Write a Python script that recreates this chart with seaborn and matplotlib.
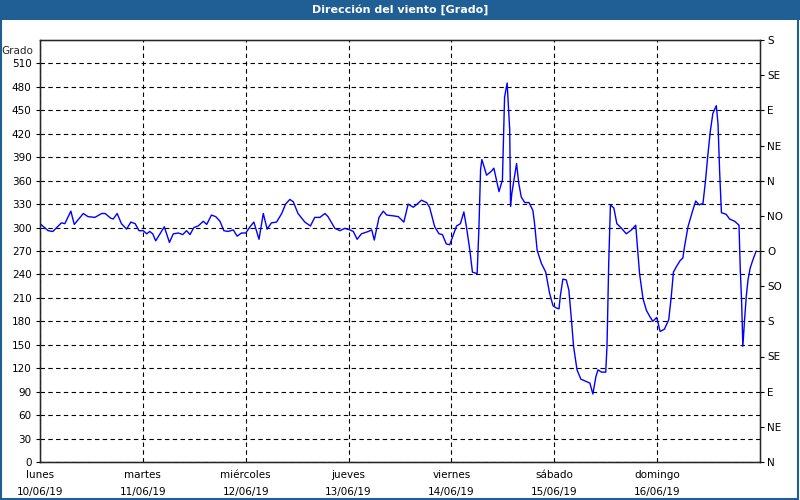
import pandas as pd
import matplotlib.pyplot as plt
from matplotlib.patches import Rectangle
import seaborn as sns

# wind direction readings, hours since 10/06/19 00:00
hours = [0, 1.9, 3, 5, 5.8, 7.2, 8, 10.1, 11.2, 12.8,
         14.4, 15.2, 16.5, 17.1, 18, 19, 20.2, 21.2, 22.2, 23.1,
         24.1, 24.9, 25.6, 26.3, 27, 28, 29, 30.2, 31.1, 32.3,
         33.3, 34.2, 35, 35.9, 36.9, 38.1, 38.9, 40, 41, 42,
         42.9, 43.9, 45.1, 46, 47, 48, 49, 49.9, 51.1, 52.1,
         53, 54, 55.2, 56.4, 57.3, 58.3, 59.1, 60.2, 61.8, 63.1,
         64.1, 65.3, 66.5, 67.2, 68.8, 70, 71.1, 72.3, 73.1, 74,
         75, 76.6, 77.4, 78, 79.1, 80.1, 80.9, 82.4, 83.6, 84.9,
         85.9, 87.1, 88, 89, 90.2, 90.9, 92.1, 93.1, 93.9, 94.8,
         95.6, 96.4, 97.2, 98.1, 98.9, 99.5, 100.3, 100.9, 102, 102.4,
         102.8, 103.1, 103.5, 104.2, 105.3, 105.9, 106.5, 107.1, 107.9, 108.4,
         109, 109.2, 109.6, 109.8, 110.1, 110.6, 111.2, 111.7, 112.3, 113.1,
         114.1, 115, 115.4, 116, 117, 118, 118.9, 119.7, 120.5, 121.1,
         121.4, 122, 122.8, 123.4, 124, 124.5, 125.3, 126.2, 127.5, 128.3,
         129, 129.7, 130.2, 131, 132, 132.3, 132.7, 133.1, 133.9, 134.6,
         135.7, 136.8, 138, 139, 139.3, 139.9, 140.7, 141.5, 142.2, 143,
         143.9, 144.7, 145.7, 146.7, 147.3, 147.8, 148.6, 149.4, 150, 150.4,
         151.2, 152.2, 153, 153.8, 154.7, 155.3, 155.8, 156.4, 157, 157.8,
         158.2, 158.6, 159, 160.1, 160.9, 162.1, 163.1, 163.4, 163.7, 164,
         164.4, 164.8, 165.2, 165.7, 166.3, 167.1]
grado = [305, 296, 295, 306, 305, 321, 304, 318, 314, 313,
         318, 318, 312, 311, 318, 305, 298, 307, 305, 296,
         296, 292, 295, 292, 283, 292, 301, 281, 292, 293,
         291, 296, 291, 300, 302, 308, 304, 316, 314, 308,
         296, 295, 297, 289, 293, 293, 301, 307, 285, 318,
         298, 306, 307, 318, 330, 336, 333, 318, 307, 302,
         313, 313, 318, 314, 299, 296, 299, 297, 295, 285,
         292, 295, 297, 284, 313, 321, 316, 315, 314, 307,
         330, 326, 330, 335, 332, 326, 301, 292, 291, 279,
         278, 290, 302, 305, 320, 301, 271, 243, 241, 297,
         374, 387, 380, 367, 372, 376, 361, 346, 361, 467,
         485, 465, 425, 327, 344, 361, 382, 357, 339, 332,
         332, 322, 305, 271, 254, 243, 216, 200, 197, 196,
         212, 234, 233, 220, 182, 148, 118, 106, 103, 101,
         87, 109, 118, 115, 115, 148, 254, 329, 325, 305,
         299, 292, 297, 303, 282, 241, 209, 194, 187, 180,
         185, 167, 170, 182, 212, 243, 251, 258, 261, 276,
         301, 320, 334, 329, 331, 361, 391, 423, 446, 456,
         433, 369, 319, 317, 311, 308, 303, 246, 207, 148,
         182, 212, 233, 248, 258, 270]

dias = ["lunes", "martes", "miércoles", "jueves", "viernes", "sábado", "domingo"]
fechas = ["10/06/19", "11/06/19", "12/06/19", "13/06/19", "14/06/19", "15/06/19", "16/06/19"]
rumbos = ["N", "NE", "E", "SE", "S", "SO", "O", "NO", "N", "NE", "E", "SE", "S"]

start = pd.Timestamp("2019-06-10")
df = pd.DataFrame({"Fecha": start + pd.to_timedelta(hours, unit="h"), "Grado": grado})

sns.set_style("white")
plt.rcParams['font.family'] = ['DejaVu Sans']
plt.rcParams['font.size'] = 7.5

blue = '#1f5f96'
fig = plt.figure(figsize=(8, 5), dpi=100)
# title band and thin frame round the picture
fig.patches.append(Rectangle((0, 0.96), 1, 0.04, transform=fig.transFigure,
                             facecolor=blue, edgecolor='none', zorder=0))
fig.patches.append(Rectangle((0.001, 0.002), 0.997, 0.997, transform=fig.transFigure,
                             facecolor='none', edgecolor=blue, lw=1.5, zorder=1))
fig.text(0.5, 0.98, "Dirección del viento [Grado]", color='white', fontweight='bold',
         ha='center', va='center', fontsize=8)

ax = fig.add_axes([40 / 800, 38 / 500, 720 / 800, 422 / 500])
sns.lineplot(data=df, x="Fecha", y="Grado", ax=ax, color='#0000ff', lw=1,
             estimator=None)

ax.set_xlim(start, start + pd.Timedelta(days=7))
ax.set_ylim(0, 540)
ax.set_yticks(range(0, 511, 30))
ax.set_xticks([start + pd.Timedelta(days=i) for i in range(7)])
ax.set_xticklabels([f"{d}\n{f}" for d, f in zip(dias, fechas)], linespacing=1.8)
ax.set_xlabel("")
ax.set_ylabel("")
ax.tick_params(axis='both', direction='out', length=3, width=0.8, colors='black', pad=3)
ax.grid(True, color='black', linestyle=(0, (4, 3)), linewidth=0.8)
for s in ax.spines.values():
    s.set_color('black')
    s.set_linewidth(1)
ax.text(-0.01, 0.985, "Grado", transform=ax.transAxes, ha='right', va='top')

ax2 = ax.twinx()
ax2.set_ylim(0, 540)
ax2.set_yticks(range(0, 541, 45))
ax2.set_yticklabels(rumbos)
ax2.tick_params(axis='y', direction='out', length=3, width=0.8, colors='black', pad=2)
ax2.grid(False)

fig.savefig("out.png", dpi=100)
